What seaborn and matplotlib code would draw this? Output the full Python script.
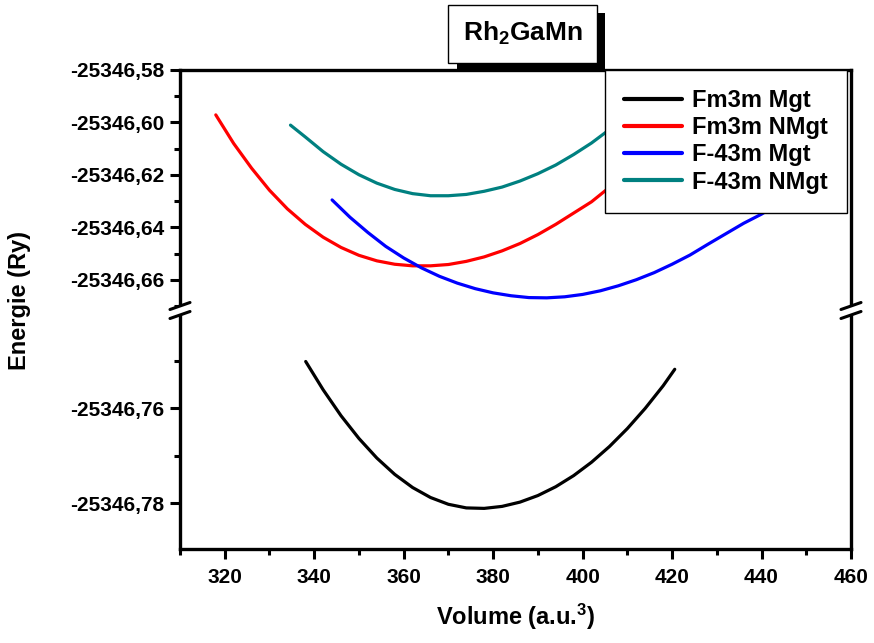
import matplotlib
matplotlib.use("Agg")
import matplotlib.pyplot as plt
import numpy as np
import pandas as pd
import seaborn as sns
from matplotlib.ticker import MultipleLocator, FuncFormatter
from matplotlib.patches import Rectangle, Polygon
from matplotlib.lines import Line2D

# ---------------- data ----------------
series_names = ["Fm3m Mgt", "Fm3m NMgt", "F-43m Mgt", "F-43m NMgt"]
series_colors = ["#000000", "#ff0000", "#0000ff", "#008080"]

vol_fm3m_mgt = [338.1, 342, 346, 350, 354, 358, 362, 366, 370, 374, 378, 382, 386,
                390, 394, 398, 402, 406, 410, 414, 418, 420.6]
en_fm3m_mgt = [-25346.75015, -25346.75610, -25346.76157, -25346.76635, -25346.77047,
               -25346.77391, -25346.77668, -25346.77878, -25346.78021, -25346.78097,
               -25346.78107, -25346.78065, -25346.77975, -25346.77837, -25346.77651,
               -25346.77417, -25346.77135, -25346.76805, -25346.76427, -25346.76001,
               -25346.75527, -25346.75179]

vol_fm3m_nmgt = [318, 322, 326, 330, 334, 338, 342, 346, 350, 354, 358, 362, 366,
                 370, 374, 378, 382, 386, 390, 394, 398, 402, 406, 410, 414]
en_fm3m_nmgt = [-25346.5971, -25346.6080, -25346.6174, -25346.6258, -25346.6329,
                -25346.6388, -25346.6437, -25346.6476, -25346.6506, -25346.6527,
                -25346.6540, -25346.6546, -25346.6546, -25346.6541, -25346.6529,
                -25346.6512, -25346.6489, -25346.6461, -25346.6427, -25346.6388,
                -25346.6345, -25346.6302, -25346.6247, -25346.6187, -25346.6122]

vol_f43m_mgt = [344, 348, 352, 356, 360, 364, 368, 372, 376, 380, 384, 388, 392,
                396, 400, 404, 408, 412, 416, 420, 424, 428, 432, 436, 440, 444, 448]
en_f43m_mgt = [-25346.6295, -25346.6361, -25346.6419, -25346.6472, -25346.6516,
               -25346.6554, -25346.6586, -25346.6612, -25346.6633, -25346.6649,
               -25346.6660, -25346.6667, -25346.6668, -25346.6664, -25346.6655,
               -25346.6641, -25346.6622, -25346.6599, -25346.6572, -25346.6540,
               -25346.6505, -25346.6464, -25346.6424, -25346.6384, -25346.6349,
               -25346.6308, -25346.6262]

vol_f43m_nmgt = [334.7, 338, 342, 346, 350, 354, 358, 362, 366, 370, 374, 378, 382,
                 386, 390, 394, 398, 402, 406, 410]
en_f43m_nmgt = [-25346.6010, -25346.6055, -25346.6111, -25346.6159, -25346.6199,
                -25346.6231, -25346.6255, -25346.6271, -25346.6279, -25346.6279,
                -25346.6274, -25346.6262, -25346.6246, -25346.6223, -25346.6195,
                -25346.6162, -25346.6122, -25346.6078, -25346.6027, -25346.5971]

x_ticks = [320, 340, 360, 380, 400, 420, 440, 460]
upper_y_ticks = [-25346.58, -25346.60, -25346.62, -25346.64, -25346.66]
lower_y_ticks = [-25346.76, -25346.78]

title_text = r"$\mathbf{Rh_2GaMn}$"
x_label = r"Volume (a.u.$\mathbf{^3}$)"
y_label = "Energie (Ry)"

frames = []
for name, v, e in [(series_names[0], vol_fm3m_mgt, en_fm3m_mgt),
                   (series_names[1], vol_fm3m_nmgt, en_fm3m_nmgt),
                   (series_names[2], vol_f43m_mgt, en_f43m_mgt),
                   (series_names[3], vol_f43m_nmgt, en_f43m_nmgt)]:
    frames.append(pd.DataFrame({"Volume": v, "Energie": e, "Phase": name}))
df = pd.concat(frames, ignore_index=True)
palette = dict(zip(series_names, series_colors))

# ---------------- style ----------------
sns.set_style("ticks")
plt.rcParams["font.family"] = ["Liberation Sans", "DejaVu Sans"]
plt.rcParams["font.weight"] = "bold"
plt.rcParams["text.color"] = "black"
plt.rcParams["axes.labelcolor"] = "black"
plt.rcParams["xtick.color"] = "black"
plt.rcParams["ytick.color"] = "black"
plt.rcParams["mathtext.fontset"] = "custom"
plt.rcParams["mathtext.rm"] = "Liberation Sans:bold"
plt.rcParams["mathtext.bf"] = "Liberation Sans:bold"
plt.rcParams["mathtext.it"] = "Liberation Sans:bold"

W, H = 874, 643
fig = plt.figure(figsize=(W / 100, H / 100), dpi=100)

def fx(px):
    return px / W

def fy(py):
    return 1 - py / H

left_px, right_px = 180, 851
top_px, brk_px, bot_px = 70, 310, 549
ax_up = fig.add_axes([fx(left_px), fy(brk_px), fx(right_px) - fx(left_px), fy(top_px) - fy(brk_px)])
ax_lo = fig.add_axes([fx(left_px), fy(bot_px), fx(right_px) - fx(left_px), fy(brk_px) - fy(bot_px)])

for ax in (ax_up, ax_lo):
    sns.lineplot(data=df, x="Volume", y="Energie", hue="Phase", hue_order=series_names,
                 palette=palette, sort=False, estimator=None, linewidth=2.3, ax=ax,
                 legend=False)
    ax.set_xlim(310, 460)
    ax.set_xlabel("")
    ax.set_ylabel("")
    for s in ax.spines.values():
        s.set_linewidth(2.4)
        s.set_color("black")
    ax.yaxis.set_major_formatter(FuncFormatter(lambda v, p: f"{v:.2f}".replace(".", ",")))
    ax.tick_params(axis="both", which="major", direction="out", length=7, width=2.2,
                   labelsize=15, pad=4, color="black", labelcolor="black")
    ax.tick_params(axis="both", which="minor", direction="out", length=4, width=2.2,
                   color="black")

ax_up.set_ylim(-25346.67143, -25346.58)
ax_up.set_yticks(upper_y_ticks)
ax_up.yaxis.set_minor_locator(MultipleLocator(0.01))
ax_up.spines["bottom"].set_visible(False)
ax_up.tick_params(axis="x", which="both", bottom=False, labelbottom=False)

ax_lo.set_ylim(-25346.78962, -25346.73931)
ax_lo.set_yticks(lower_y_ticks)
ax_lo.yaxis.set_minor_locator(MultipleLocator(0.01))
ax_lo.spines["top"].set_visible(False)
ax_lo.set_xticks(x_ticks)
ax_lo.xaxis.set_minor_locator(MultipleLocator(10))
ax_lo.tick_params(axis="x", which="major", pad=7)

for ax in (ax_up, ax_lo):
    for lab in ax.get_xticklabels() + ax.get_yticklabels():
        lab.set_fontweight("bold")
        lab.set_fontsize(15)
        lab.set_color("black")

# axis labels
fig.text(fx(20), fy(300), y_label, rotation=90, ha="center", va="center",
         fontsize=17, fontweight="bold", color="black")
fig.text(fx(516), fy(617), x_label, ha="center", va="center",
         fontsize=17, fontweight="bold", color="black")

# break marks
for x0 in (left_px, right_px):
    poly = Polygon([(fx(x0 - 6), fy(308)), (fx(x0 + 6), fy(304)),
                    (fx(x0 + 6), fy(313)), (fx(x0 - 6), fy(317))],
                   closed=True, transform=fig.transFigure, facecolor="white",
                   edgecolor="none", zorder=10)
    fig.patches.append(poly)
    for yc in (306, 315):
        fig.lines.append(Line2D([fx(x0 - 10), fx(x0 + 10)], [fy(yc + 3.5), fy(yc - 3.5)],
                                transform=fig.transFigure, color="black",
                                linewidth=2.2, zorder=11))

# legend
handles = [Line2D([0], [0], color=c, linewidth=3) for c in series_colors]
leg = fig.legend(handles, series_names, loc="upper left",
                 bbox_to_anchor=(fx(605), fy(70)), frameon=True, fancybox=False,
                 edgecolor="black", framealpha=1, borderaxespad=0,
                 prop={"weight": "bold", "size": 17}, handlelength=2.45,
                 handletextpad=0.45, labelspacing=0.18, borderpad=0.8)
leg.get_frame().set_linewidth(1.0)
leg.set_zorder(20)
for t in leg.get_texts():
    t.set_color("black")

# title box with shadow
fig.patches.append(Rectangle((fx(457), fy(72)), fx(605) - fx(457), fy(13) - fy(72),
                             transform=fig.transFigure, facecolor="black",
                             edgecolor="none", zorder=21))
fig.patches.append(Rectangle((fx(448), fy(63)), fx(597) - fx(448), fy(5) - fy(63),
                             transform=fig.transFigure, facecolor="white",
                             edgecolor="black", linewidth=1.0, zorder=22))
fig.text(fx(523), fy(33), title_text, ha="center", va="center", fontsize=19,
         zorder=23, color="black")

fig.savefig("out.png", dpi=100)
